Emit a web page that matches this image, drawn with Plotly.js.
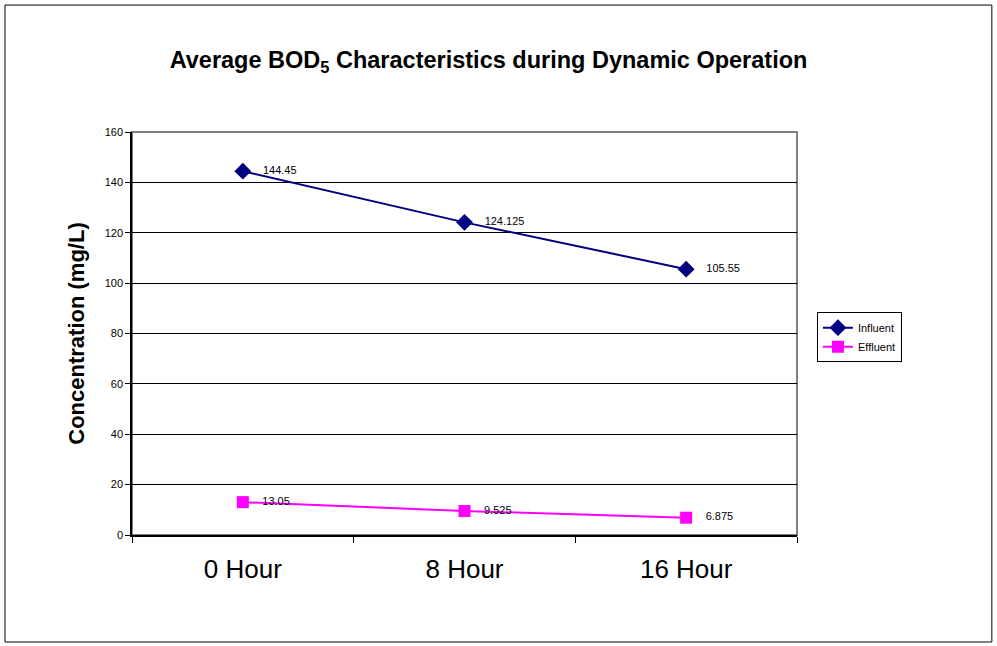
<!DOCTYPE html>
<html><head><meta charset="utf-8">
<script src="https://cdn.plot.ly/plotly-3.0.1.min.js"></script>
<style>body{margin:0;background:#fff}#c{width:997px;height:646px}</style>
</head><body><div id="c"></div>
<script>
const categories = ["0 Hour", "8 Hour", "16 Hour"];
const influent = [144.45, 124.125, 105.55];
const effluent = [13.05, 9.525, 6.875];
const influentLabels = ["144.45", "124.125", "105.55"];
const effluentLabels = ["13.05", "9.525", "6.875"];
const yTicks = [0, 20, 40, 60, 80, 100, 120, 140, 160];

const pad = s => "\u2002\u2002" + s;

const traces = [
  {x: categories, y: influent, name: "Influent", type: "scatter", mode: "lines+markers+text",
   text: influentLabels.map(pad), textposition: "middle right", cliponaxis: false,
   textfont: {family: "Liberation Sans, Arial", size: 11, color: "#000"},
   line: {color: "#000080", width: 2}, marker: {symbol: "diamond", size: 13, color: "#000080"}},
  {x: categories, y: effluent, name: "Effluent", type: "scatter", mode: "lines+markers+text",
   text: effluentLabels.map(pad), textposition: "middle right", cliponaxis: false,
   textfont: {family: "Liberation Sans, Arial", size: 11, color: "#000"},
   line: {color: "#FF00FF", width: 2}, marker: {symbol: "square", size: 12, color: "#FF00FF"}}
];

const layout = {
  width: 997, height: 646,
  margin: {l: 132, r: 200, t: 132, b: 111},
  paper_bgcolor: "#fff", plot_bgcolor: "#fff",
  font: {family: "Liberation Sans, Arial", color: "#000"},
  title: {text: "Average BOD<sub>5</sub> Characteristics during Dynamic Operation",
          font: {size: 23.5, family: "Liberation Sans, Arial", weight: "bold"},
          x: 0.49, xanchor: "center", y: 0.907, yanchor: "middle"},
  showlegend: true,
  legend: {x: 1.03, y: 0.553, xanchor: "left", yanchor: "top",
           bordercolor: "#000", borderwidth: 1, bgcolor: "#fff",
           font: {size: 11, family: "Liberation Sans, Arial"},
           tracegroupgap: 2},
  xaxis: {type: "category", range: [-0.5, 2.5], showgrid: false,
          tickson: "boundaries", ticks: "outside", ticklen: 6, tickcolor: "#000",
          showline: true, linecolor: "#000", linewidth: 1.5, ticklabelstandoff: 10,
          tickfont: {size: 26, family: "Liberation Sans, Arial"}, zeroline: false},
  yaxis: {range: [0, 160], tickvals: yTicks, ticks: "outside", ticklen: 5, tickcolor: "#000",
          showline: true, linecolor: "#000", linewidth: 1.5,
          showgrid: true, gridcolor: "#000", gridwidth: 1, zeroline: false,
          tickfont: {size: 11, family: "Liberation Sans, Arial"},
          title: {text: "Concentration (mg/L)", font: {size: 22, weight: "bold"}, standoff: 14}},
  shapes: [
    {type: "rect", xref: "paper", yref: "paper", x0: 0, x1: 1, y0: 0, y1: 1,
     line: {color: "#808080", width: 2}, layer: "below"},
    {type: "rect", xref: "paper", yref: "paper", x0: -0.191, x1: 1.293, y0: -0.2655, y1: 1.315,
     line: {color: "#000", width: 1}}
  ]
};
Plotly.newPlot("c", traces, layout, {displayModeBar: false});
</script></body></html>
